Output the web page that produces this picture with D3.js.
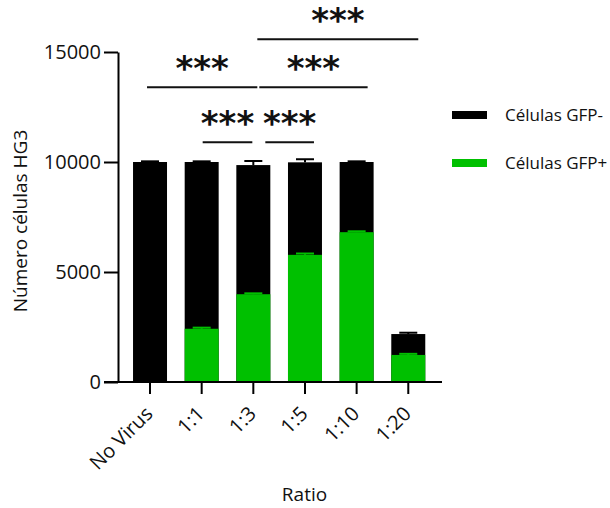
<!DOCTYPE html>
<html>
<head>
<meta charset="utf-8">
<script src="https://cdn.jsdelivr.net/npm/d3@7/dist/d3.min.js"></script>
<style>
  body { margin: 0; background: #fff; }
  svg { display: block; }
  text { font-family: "Open Sans", sans-serif; fill: #111; }
</style>
</head>
<body>
<svg id="chart" width="610" height="508"></svg>
<script>
// ---- data ----
const categories = ["No Virus", "1:1", "1:3", "1:5", "1:10", "1:20"];
const totalCells = [10000, 10000, 9860, 9985, 10000, 2180];
const totalErr = [30, 30, 185, 140, 30, 60];
const gfpPos = [0, 2420, 3990, 5780, 6810, 1230];
const gfpErr = [0, 50, 40, 60, 40, 50];
const yTicks = [0, 5000, 10000, 15000];
const seriesNames = ["Células GFP-", "Células GFP+"];
const seriesColors = ["#000000", "#00c000"];
// significance comparisons
const comparisons = [
  { a: "1:1", b: "1:3", level: 10900, label: "***", nudge: [1, -1] },
  { a: "1:3", b: "1:5", level: 10900, label: "***", nudge: [12, 9] },
  { a: "No Virus", b: "1:3", level: 13400, label: "***", nudge: [-3, 4] },
  { a: "1:3", b: "1:10", level: 13400, label: "***", nudge: [6, 11] },
  { a: "1:3", b: "1:20", level: 15580, label: "***", nudge: [4, 10] }
];

(function () {
const svg = d3.select("#chart");
const mLeft = 118, mRight = 442, mTop = 52, mBottom = 382;

const x = d3.scaleBand().domain(categories)
  .range([124.2, 434.1]).paddingInner(0.342).paddingOuter(0.171);
const y = d3.scaleLinear().domain([0, 15000]).range([mBottom, mTop]);
const bw = x.bandwidth();

const data = categories.map((c, i) => ({
  c, total: totalCells[i], tErr: totalErr[i], pos: gfpPos[i], pErr: gfpErr[i]
}));

const g = svg.append("g");
data.forEach(d => {
  const cx = x(d.c) + bw / 2;
  if (d.tErr > 0) {
    g.append("line").attr("x1", cx).attr("x2", cx)
      .attr("y1", y(d.total)).attr("y2", y(d.total + d.tErr))
      .attr("stroke", "#000").attr("stroke-width", 2);
    g.append("line").attr("x1", cx - 9).attr("x2", cx + 9)
      .attr("y1", y(d.total + d.tErr)).attr("y2", y(d.total + d.tErr))
      .attr("stroke", "#000").attr("stroke-width", 2);
  }
});

g.selectAll("rect.neg").data(data).join("rect")
  .attr("class", "neg")
  .attr("x", d => x(d.c)).attr("width", bw)
  .attr("y", d => y(d.total)).attr("height", d => y(0) - y(d.total))
  .attr("fill", seriesColors[0]);

data.forEach(d => {
  const cx = x(d.c) + bw / 2;
  if (d.pos > 0 && d.pErr > 0) {
    g.append("line").attr("x1", cx).attr("x2", cx)
      .attr("y1", y(d.pos)).attr("y2", y(d.pos + d.pErr))
      .attr("stroke", seriesColors[1]).attr("stroke-width", 2);
    g.append("line").attr("x1", cx - 9).attr("x2", cx + 9)
      .attr("y1", y(d.pos + d.pErr)).attr("y2", y(d.pos + d.pErr))
      .attr("stroke", seriesColors[1]).attr("stroke-width", 2);
  }
});

g.selectAll("rect.pos").data(data.filter(d => d.pos > 0)).join("rect")
  .attr("class", "pos")
  .attr("x", d => x(d.c)).attr("width", bw)
  .attr("y", d => y(d.pos)).attr("height", d => y(0) - y(d.pos))
  .attr("fill", seriesColors[1]);

// y axis
const yAxis = svg.append("g").attr("transform", `translate(${mLeft},0)`)
  .call(d3.axisLeft(y).tickValues(yTicks).tickFormat(d3.format("d"))
    .tickSize(14).tickSizeOuter(0).tickPadding(3));
yAxis.select(".domain").attr("stroke-width", 2).attr("stroke", "#000");
yAxis.selectAll(".tick line").attr("stroke-width", 2).attr("stroke", "#000");
yAxis.selectAll(".tick text").style("font-size", "20px").attr("fill", "#111")
  .style("font-family", "'Open Sans', sans-serif");

// x axis
const xAxis = svg.append("g").attr("transform", `translate(0,${mBottom})`)
  .call(d3.axisBottom(x).tickSize(12).tickSizeOuter(0));
xAxis.select(".domain").remove();
xAxis.append("line").attr("x1", mLeft - 14).attr("x2", mRight)
  .attr("y1", 0).attr("y2", 0).attr("stroke", "#000").attr("stroke-width", 2);
xAxis.selectAll(".tick line").attr("stroke-width", 2).attr("stroke", "#000");
xAxis.selectAll(".tick text")
  .style("font-size", "20px").style("font-family", "'Open Sans', sans-serif")
  .attr("fill", "#111")
  .attr("text-anchor", "end")
  .attr("transform", "translate(4,33) rotate(-45)")
  .attr("dy", "0").attr("y", 0).attr("x", 0);

// axis titles
svg.append("text").attr("x", 304.5).attr("y", 501)
  .attr("text-anchor", "middle").style("font-size", "19px").text("Ratio");
svg.append("text")
  .attr("transform", `translate(26.5,221) rotate(-90)`)
  .attr("text-anchor", "middle").style("font-size", "19px")
  .text("Número células HG3");

// significance
const sg = svg.append("g");
comparisons.forEach(cmp => {
  const x1 = x(cmp.a) + bw / 2 + cmp.nudge[0];
  const x2 = x(cmp.b) + bw / 2 + cmp.nudge[1];
  const ly = y(cmp.level);
  sg.append("line").attr("x1", x1).attr("x2", x2).attr("y1", ly).attr("y2", ly)
    .attr("stroke", "#111").attr("stroke-width", 2);
  sg.append("text").attr("x", (x1 + x2) / 2).attr("y", ly - 7)
    .attr("text-anchor", "middle")
    .style("font-family", "'DejaVu Sans', sans-serif")
    .style("font-weight", "bold").style("font-size", "34px")
    .attr("fill", "#000")
    .text(cmp.label);
});

// legend
const legend = svg.append("g");
const legendY = [115, 163];
seriesNames.forEach((name, i) => {
  legend.append("rect").attr("x", 452).attr("y", legendY[i] - 4)
    .attr("width", 35).attr("height", 8).attr("fill", seriesColors[i]);
  legend.append("text").attr("x", 505).attr("y", legendY[i])
    .attr("dy", "0.35em").style("font-size", "17px").text(name);
});
})();
</script>
</body>
</html>
